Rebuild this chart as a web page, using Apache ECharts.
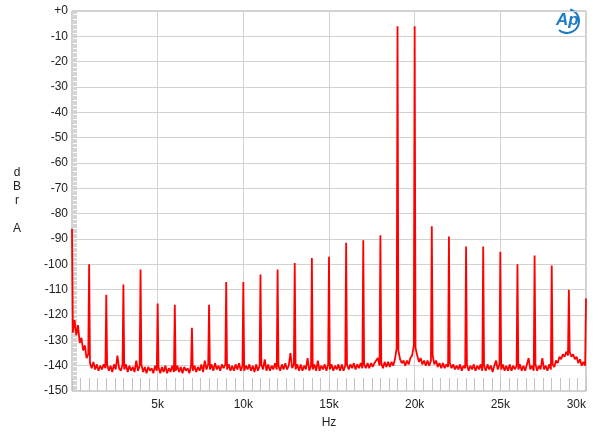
<!DOCTYPE html>
<html>
<head>
<meta charset="utf-8">
<script src="https://cdn.jsdelivr.net/npm/echarts@6/dist/echarts.min.js"></script>
<style>
html,body{margin:0;padding:0;background:#fff;}
#chart{width:600px;height:437px;}
</style>
</head>
<body>
<div id="chart"></div>
<script>
// Harmonic / tone frequencies (Hz) and their peak levels (dBrA)
var peakFreqs = [0,1000,2000,3000,4000,5000,6000,7000,8000,9000,10000,11000,12000,13000,14000,15000,16000,17000,18000,19000,20000,21000,22000,23000,24000,25000,26000,27000,28000,29000,30000];
var peakLevels = [-86,-100,-112,-108,-102,-115.5,-116,-125,-116,-107,-107,-104,-102,-99.5,-97.5,-97,-91.5,-90.5,-88.5,-6,-6,-85,-89,-93,-93,-95,-100,-96.5,-100.5,-110,-113.5];

// Noise floor read at 50, 150, 250 ... 29950 Hz (one row per kHz)
var noiseStart = 50;
var noiseStep = 100;
var noiseLevels = [
 -127,-122,-128,-124,-131,-129,-134,-132,-137,-135.5,
 -139,-141,-138.5,-141.5,-139.5,-142,-140,-141.5,-139.5,-141,
 -139.5,-142,-140,-142.5,-139.5,-141.5,-136,-141,-142,-139.5,
 -141.5,-139.5,-142.5,-140,-142,-140.5,-142.5,-138,-142,-140,
 -139.5,-142.5,-140.5,-143,-140.5,-142,-141,-143,-140,-142,
 -140.5,-143,-140.5,-142.5,-140,-143,-141,-142.5,-140,-142.5,
 -142,-140,-142.5,-140.5,-143,-140.5,-142,-141,-143,-140,
 -142,-140,-142.5,-140.5,-142,-139.5,-142.5,-138,-141.5,-139.5,
 -141.5,-139.5,-142,-139,-141.5,-140,-142,-139.5,-141,-139.5,
 -141.5,-139.5,-142,-140,-142,-139.5,-141.5,-139,-142,-140,
 -142,-140,-141.5,-139.5,-142,-140,-142.5,-139.5,-142,-140,
 -139.5,-141.5,-137.5,-142,-139.5,-142,-140,-141.5,-139,-141.5,
 -140,-142,-139.5,-141.5,-139,-141.5,-140,-135,-141,-139.5,
 -141.5,-139.5,-142,-139.5,-142,-140,-141.5,-137,-142,-140,
 -141.5,-139.5,-142,-138,-142,-140,-141.5,-139.5,-142,-139.5,
 -141.5,-139.5,-142,-140,-141.5,-139.5,-142,-139.5,-142,-140,
 -139.5,-141.5,-139.5,-141,-139,-141.5,-139.5,-141,-139,-141,
 -139.5,-141,-139,-141,-139,-140.5,-139,-138,-137,-140,
 -139,-141,-138.5,-140.5,-138.5,-140.5,-138.5,-140,-137.5,-133,
 -134,-137.5,-139,-138,-140,-138,-139.5,-137,-136,-132,
 -133,-136,-138.5,-137,-139.5,-138,-140,-138,-140,-138,
 -136,-139.5,-138,-140.5,-139,-141,-139,-141,-139.5,-140.5,
 -139,-141,-139.5,-141.5,-140,-141.5,-139.5,-142,-140,-141,
 -139.5,-142,-140,-141.5,-139.5,-142,-140,-141.5,-139.5,-142,
 -140,-142,-139.5,-141.5,-140,-142.5,-140,-138,-141.5,-139.5,
 -141.5,-139.5,-142,-140,-142,-139.5,-142,-140,-141.5,-140,
 -141.5,-139.5,-142,-140,-142,-139.5,-137,-141.5,-140,-142,
 -139.5,-142,-140,-141.5,-137,-141.5,-140,-142,-139.5,-141.5,
 -139.5,-140.5,-138,-139,-136.5,-137.5,-135.5,-136.5,-134.5,-136,
 -134.5,-136.5,-135.5,-137.5,-136.5,-139,-137.5,-140,-138.5,-140
];

var yTicks = [0,-10,-20,-30,-40,-50,-60,-70,-80,-90,-100,-110,-120,-130,-140,-150];
var xTickLabels = {5000:'5k',10000:'10k',15000:'15k',20000:'20k',25000:'25k',30000:'30k'};

// merge peaks and noise floor into one spectrum trace
var pts = [];
for (var i = 0; i < peakFreqs.length; i++) pts.push([peakFreqs[i], peakLevels[i]]);
for (var j = 0; j < noiseLevels.length; j++) pts.push([noiseStart + j*noiseStep, noiseLevels[j]]);
pts.sort(function(a,b){return a[0]-b[0];});

var chart = echarts.init(document.getElementById('chart'), null, {renderer:'canvas'});
var font = '"Liberation Sans", Arial, sans-serif';
chart.setOption({
  animation:false,
  backgroundColor:'#ffffff',
  grid:{left:72,right:14,top:11,bottom:46,show:true,borderColor:'#a6a6a6',borderWidth:1,backgroundColor:'transparent'},
  xAxis:{
    type:'value',min:0,max:30000,interval:5000,position:'bottom',
    name:'Hz',nameLocation:'middle',nameGap:26,
    nameTextStyle:{color:'#222',fontFamily:font,fontSize:12},
    axisLine:{show:false,onZero:false},
    axisTick:{show:true,inside:true,length:13,lineStyle:{color:'#c4c4c4'}},
    minorTick:{show:true,splitNumber:10,length:13,lineStyle:{color:'#c4c4c4'}},
    splitLine:{show:true,lineStyle:{color:'#d2d2d2',width:1}},
    axisLabel:{color:'#222',fontFamily:font,fontSize:12,margin:8,alignMaxLabel:'right',
      formatter:function(v){return xTickLabels[v]||'';}}
  },
  yAxis:{
    type:'value',min:-150,max:0,interval:10,position:'left',
    name:'d\nB\nr\n\nA',nameLocation:'middle',nameRotate:0,nameGap:55,
    nameTextStyle:{color:'#222',fontFamily:font,fontSize:12,lineHeight:14,align:'center'},
    axisLine:{show:false,onZero:false},
    axisTick:{show:false,inside:true},
    minorTick:{show:true,splitNumber:20,length:5,lineStyle:{color:'#d4d4d4'}},
    splitLine:{show:true,lineStyle:{color:'#d2d2d2',width:1}},
    axisLabel:{color:'#222',fontFamily:font,fontSize:12,margin:4,inside:false,
      formatter:function(v){return yTicks.indexOf(v)>=0 ? (v===0?'+0':String(v)) : '';}}
  },
  series:[{
    type:'line',data:pts,showSymbol:false,symbol:'none',
    lineStyle:{color:'#ff0000',width:1.8},
    itemStyle:{color:'#ff0000'},
    clip:true
  }],
  graphic:[
    {type:'text',left:556,top:12,style:{text:'Ap',fill:'#1a7cc4',font:'italic bold 17px "Liberation Sans", Arial, sans-serif'}},
    {type:'arc',shape:{cx:567,cy:21,r:12,startAngle:-1.3,endAngle:2.3,clockwise:true},style:{stroke:'#1a7cc4',lineWidth:2,fill:'none'}}
  ]
});
</script>
</body>
</html>
